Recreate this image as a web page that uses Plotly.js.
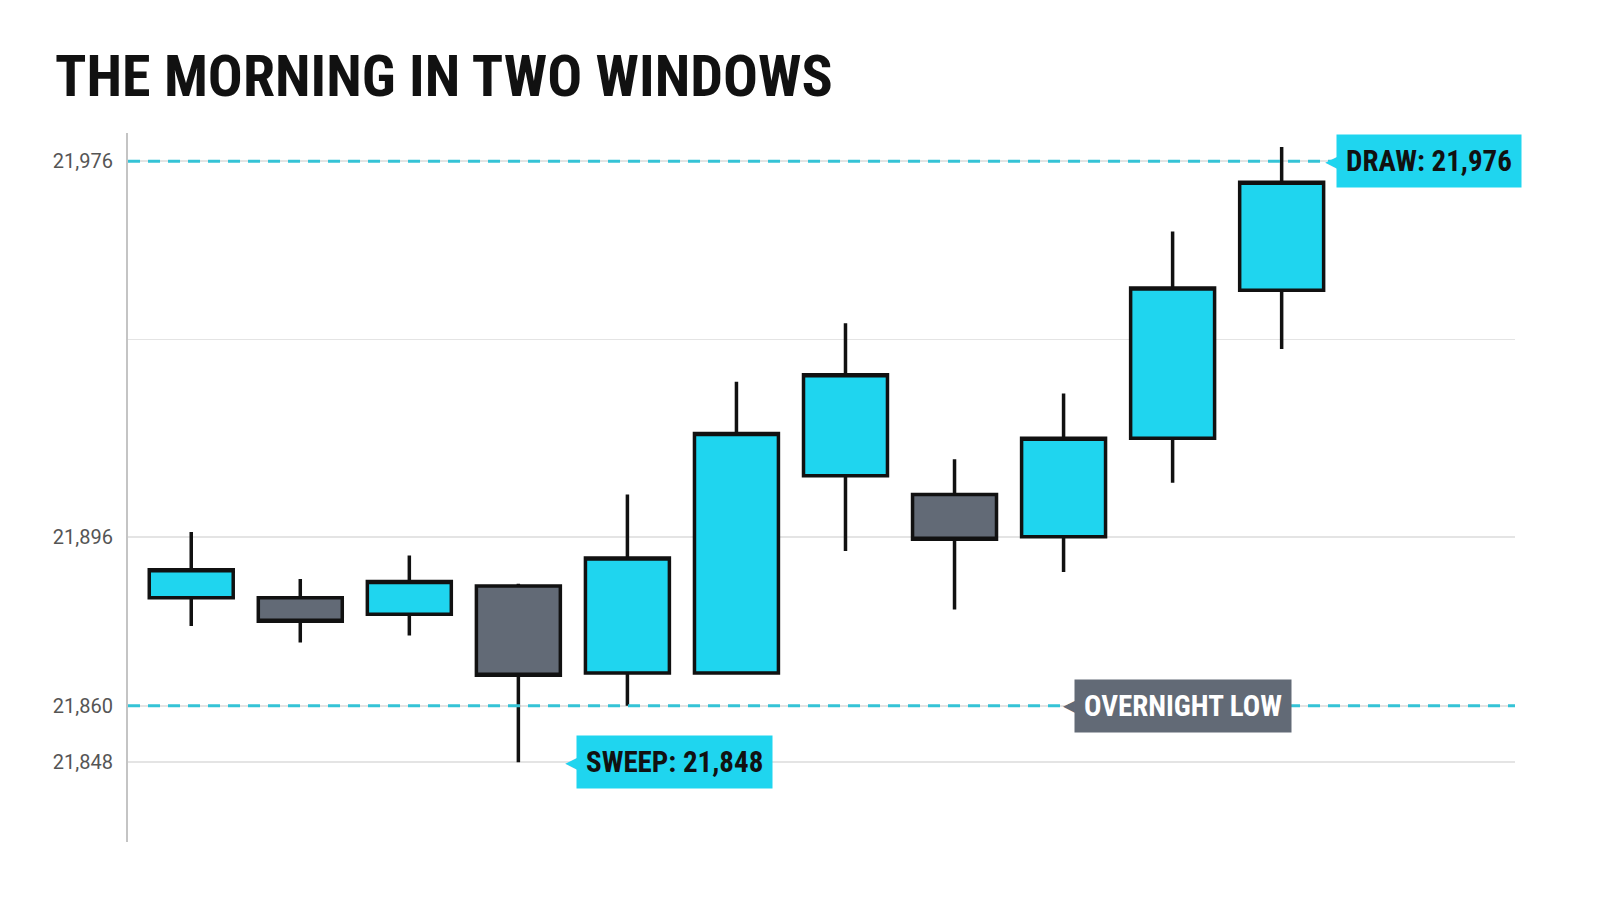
<!DOCTYPE html>
<html>
<head>
<meta charset="utf-8">
<script src="https://cdn.plot.ly/plotly-3.0.1.min.js"></script>
<style>
  html, body { margin: 0; padding: 0; background: #ffffff; }
  #chart { width: 1600px; height: 914px; }
</style>
</head>
<body>
<div id="chart"></div>
<script>
// Eleven bars of the morning session
const bars = [1, 2, 3, 4, 5, 6, 7, 8, 9, 10, 11];
const opens  = [21883, 21883, 21879.5, 21885.5, 21867, 21867, 21909, 21905, 21896, 21917, 21948.5];
const highs  = [21897, 21887, 21892, 21886, 21905, 21929, 21941.5, 21912.5, 21926.5, 21961, 21979];
const lows   = [21877, 21873.5, 21875, 21848, 21860, 21867, 21893, 21880.5, 21888.5, 21907.5, 21936];
const closes = [21889, 21878, 21886.5, 21866.5, 21891.5, 21918, 21930.5, 21895.5, 21917, 21949, 21971.5];

// Reference levels
const drawLevel = 21976;
const overnightLow = 21860;
const sweepLow = 21848;

// Axis ticks (the unlabelled one is a plain gridline)
const tickValues = [21848, 21860, 21896, 21938, 21976];
const tickLabels = ['21,848', '21,860', '21,896', '', '21,976'];

const CYAN = '#1fd5ef';
const GREY = '#626a76';
const DASH = '#35c3d6';
const condensed = '"Roboto Condensed", "Liberation Sans Narrow", "DejaVu Sans Condensed", Roboto, sans-serif';

const data = [{
    type: 'candlestick',
    x: bars,
    open: opens,
    high: highs,
    low: lows,
    close: closes,
    whiskerwidth: 0,
    increasing: { fillcolor: CYAN, line: { color: '#111111', width: 3.5 } },
    decreasing: { fillcolor: GREY, line: { color: '#111111', width: 3.5 } },
    hoverinfo: 'skip',
    showlegend: false
}];

const layout = {
    width: 1600,
    height: 914,
    margin: { t: 133, r: 85, b: 72, l: 128 },
    paper_bgcolor: '#ffffff',
    plot_bgcolor: '#ffffff',
    boxgap: 0.23,
    boxgroupgap: 0,
    showlegend: false,
    title: {
        text: 'THE MORNING IN TWO WINDOWS',
        x: 0, xref: 'paper', xanchor: 'left',
        y: 0.895, yanchor: 'bottom',
        pad: { l: -73 },
        font: { family: condensed, size: 58, color: '#111111', weight: 700 }
    },
    xaxis: {
        range: [0.42, 13.14],
        showgrid: false,
        zeroline: false,
        showticklabels: false,
        ticks: '',
        showline: false,
        rangeslider: { visible: false }
    },
    yaxis: {
        range: [21831, 21982],
        tickmode: 'array',
        tickvals: tickValues,
        ticktext: tickLabels,
        showgrid: true,
        gridcolor: '#e4e4e4',
        gridwidth: 1.5,
        zeroline: false,
        showline: true,
        linecolor: '#c4c4c4',
        linewidth: 2,
        ticks: 'outside',
        ticklen: 9,
        tickcolor: 'rgba(0,0,0,0)',
        tickfont: { family: 'Roboto, sans-serif', size: 20, color: '#555555' }
    },
    shapes: [
        {
            type: 'line', layer: 'above',
            xref: 'paper', x0: 0, x1: 1,
            yref: 'y', y0: drawLevel, y1: drawLevel,
            line: { color: DASH, width: 3, dash: '12px,8px' }
        },
        {
            type: 'line', layer: 'above',
            xref: 'paper', x0: 0, x1: 1,
            yref: 'y', y0: overnightLow, y1: overnightLow,
            line: { color: DASH, width: 3, dash: '12px,8px' }
        }
    ],
    annotations: [
        {
            x: 11.5, y: drawLevel, xref: 'x', yref: 'y',
            xanchor: 'left', yanchor: 'middle', showarrow: false,
            text: '<b>DRAW: 21,976</b>',
            bgcolor: CYAN, borderpad: 9,
            font: { family: condensed, size: 29, color: '#111111' }
        },
        {
            x: 11.5, y: drawLevel, xref: 'x', yref: 'y',
            xanchor: 'right', yanchor: 'middle', showarrow: false,
            text: '◀', xshift: 4,
            font: { family: 'DejaVu Sans', size: 16, color: CYAN }
        },
        {
            x: 9.1, y: overnightLow, xref: 'x', yref: 'y',
            xanchor: 'left', yanchor: 'middle', showarrow: false,
            text: '<b>OVERNIGHT LOW</b>',
            bgcolor: GREY, borderpad: 9,
            font: { family: condensed, size: 29, color: '#ffffff' }
        },
        {
            x: 9.1, y: overnightLow, xref: 'x', yref: 'y',
            xanchor: 'right', yanchor: 'middle', showarrow: false,
            text: '◀', xshift: 4,
            font: { family: 'DejaVu Sans', size: 16, color: GREY }
        },
        {
            x: 4.53, y: sweepLow, xref: 'x', yref: 'y',
            xanchor: 'left', yanchor: 'middle', showarrow: false,
            text: '<b>SWEEP: 21,848</b>',
            bgcolor: CYAN, borderpad: 9,
            font: { family: condensed, size: 29, color: '#111111' }
        },
        {
            x: 4.53, y: sweepLow, xref: 'x', yref: 'y',
            xanchor: 'right', yanchor: 'middle', showarrow: false,
            text: '◀', xshift: 4,
            font: { family: 'DejaVu Sans', size: 16, color: CYAN }
        }
    ]
};

Plotly.newPlot('chart', data, layout, { displayModeBar: false, staticPlot: true });
</script>
</body>
</html>
